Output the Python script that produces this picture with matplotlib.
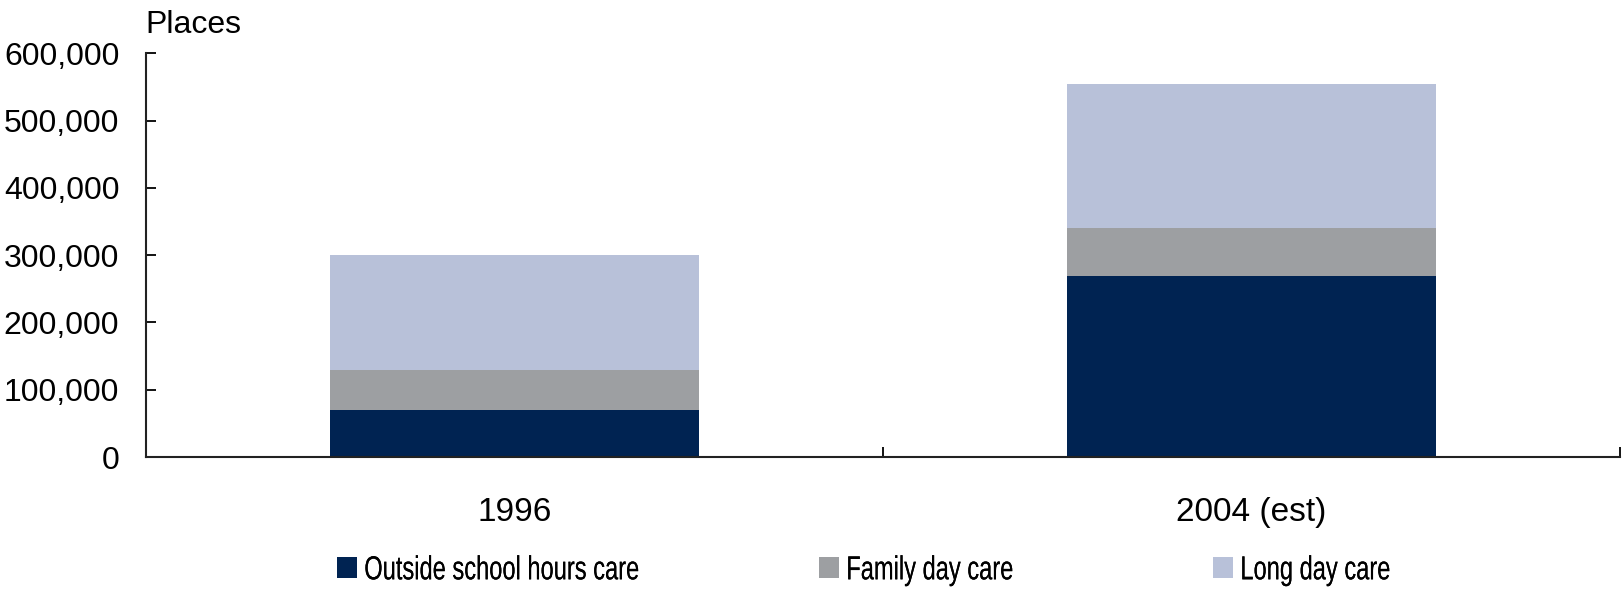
import matplotlib
matplotlib.use('Agg')
import matplotlib.pyplot as plt
from matplotlib.patheffects import AbstractPathEffect
from matplotlib.transforms import Affine2D
from matplotlib.ticker import FuncFormatter, FixedLocator

plt.rcParams['font.family'] = ['Liberation Sans', 'DejaVu Sans']


# the legend in the reference uses a narrow face; squeeze the text sideways
class Squeeze(AbstractPathEffect):
    def __init__(self, sx):
        super().__init__()
        self.sx = sx

    def draw_path(self, renderer, gc, tpath, affine, rgbFace=None):
        x0 = affine.get_matrix()[0, 2]
        aff = affine + Affine2D().translate(-x0, 0).scale(self.sx, 1).translate(x0, 0)
        renderer.draw_path(gc, tpath, aff, rgbFace)


# data
years = ['1996', '2004 (est)']
oshc = [70000, 269000]
family = [60000, 72000]
long_day = [170000, 214000]

series_names = ['Outside school hours care', 'Family day care', 'Long day care']
colours = ['#002352', '#9d9fa2', '#b8c1d9']

fig = plt.figure(figsize=(16.23, 5.94), dpi=100)
ax = fig.add_axes([0.0898, 0.2306, 0.9085, 0.6797])

x = range(len(years))
base = [0, 0]
bars = []
for vals, name, col in zip([oshc, family, long_day], series_names, colours):
    b = ax.bar(x, vals, width=0.5, bottom=base, color=col, label=name, linewidth=0)
    bars.append(b)
    base = [a + v for a, v in zip(base, vals)]

ax.set_xlim(-0.5, 1.5)
ax.set_ylim(0, 600000)
ax.set_yticks(range(0, 600001, 100000))
ax.yaxis.set_major_formatter(FuncFormatter(lambda v, p: '{:,.0f}'.format(v)))
ax.set_xticks(list(x))
ax.set_xticklabels(years)
ax.xaxis.set_minor_locator(FixedLocator([-0.5, 0.5, 1.5]))

ax.tick_params(axis='y', direction='in', length=7.5, width=1.3, labelsize=23, pad=19)
ax.tick_params(axis='x', which='major', length=0, labelsize=24, pad=29)
ax.tick_params(axis='x', which='minor', direction='in', length=7.5, width=1.3)

for s in ['top', 'right']:
    ax.spines[s].set_visible(False)
for s in ['left', 'bottom']:
    ax.spines[s].set_linewidth(1.5)
    ax.spines[s].set_color('#222222')

fig.text(0.0898, 0.958, 'Places', fontsize=23, va='center', ha='left')

# one legend per entry, placed where the reference has them
leg_x = [0.2076, 0.5046, 0.7474]
for b, name, lx in zip(bars, series_names, leg_x):
    lg = fig.legend(handles=[b], labels=[name], loc='center left',
                    bbox_to_anchor=(lx, 0.039), frameon=False, fontsize=24,
                    handlelength=0.6, handleheight=0.6, handletextpad=0.22,
                    borderpad=0, borderaxespad=0)
    for t in lg.get_texts():
        t.set_path_effects([Squeeze(0.71)])
    fig.add_artist(lg)

fig.savefig('out.png', dpi=100)
